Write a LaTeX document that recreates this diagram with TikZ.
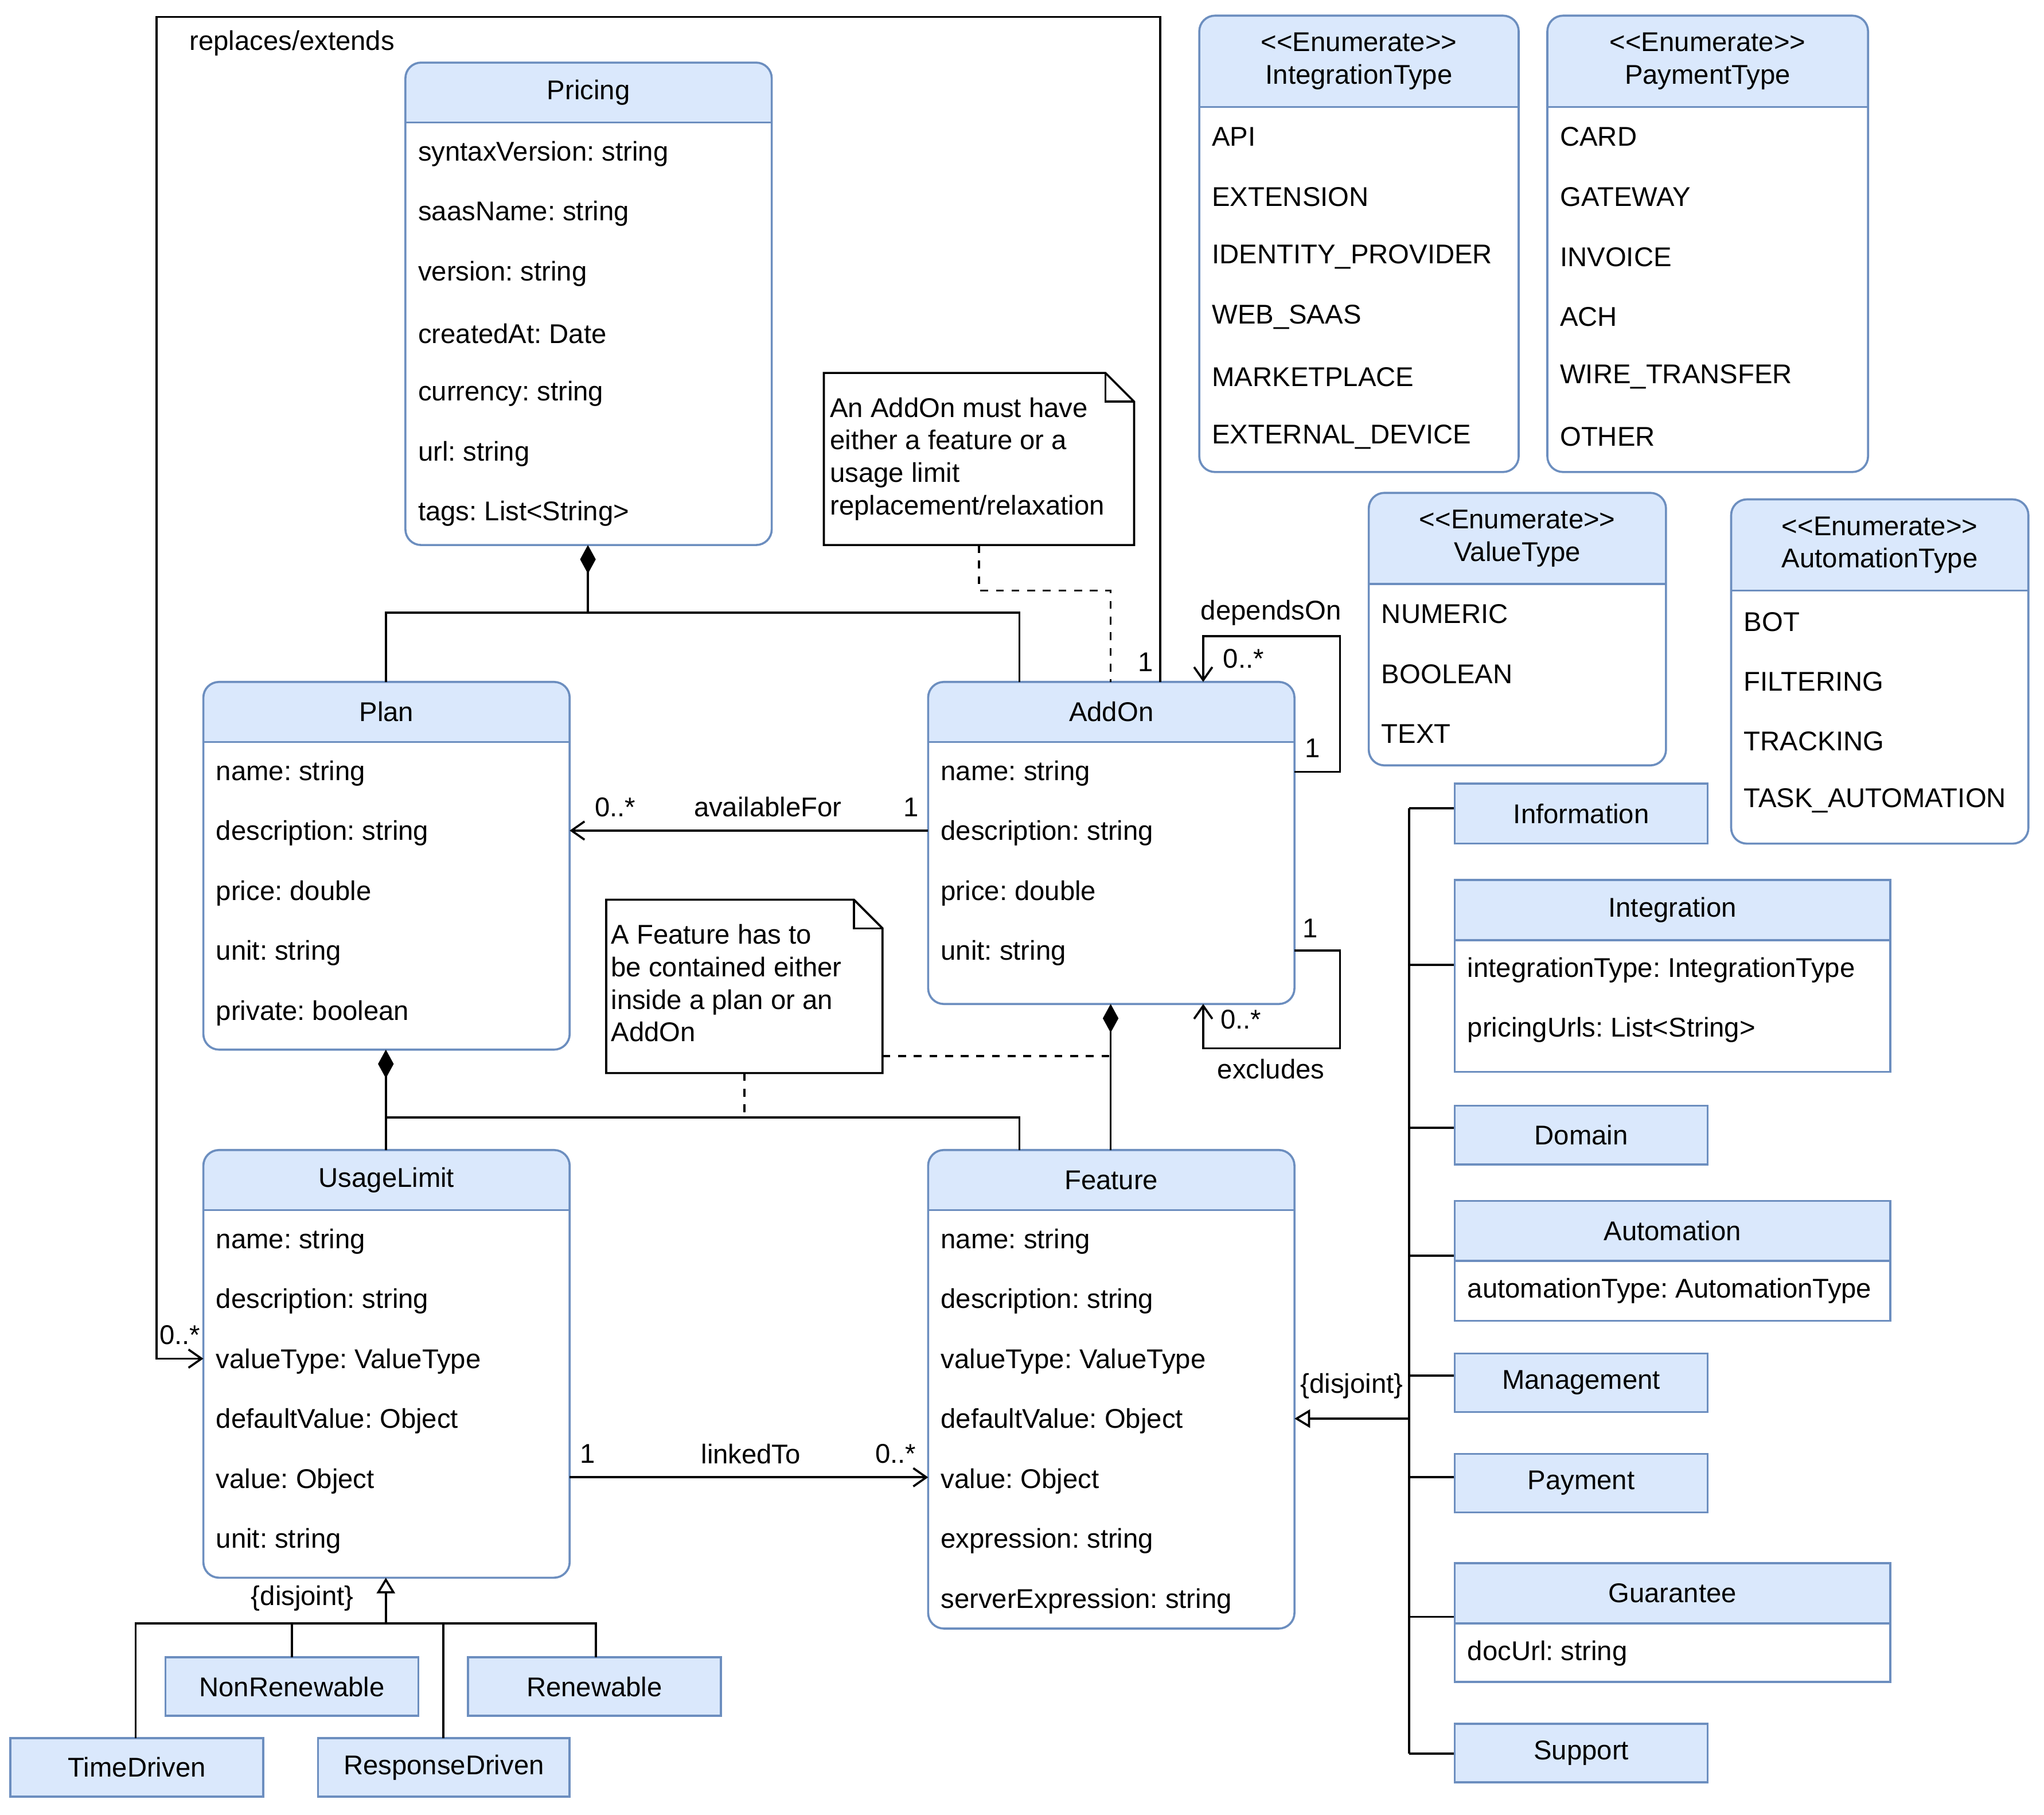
\documentclass[tikz,border=0pt]{standalone}
\usepackage{fontspec}
\setmainfont{Liberation Sans}
\usetikzlibrary{arrows.meta}
\definecolor{hf}{HTML}{DAE8FC}
\definecolor{hs}{HTML}{6C8EBF}
\frenchspacing
\tikzset{
 lbl/.style={inner sep=0pt,font=\fontsize{10.4}{12.5}\selectfont},
 att/.style={lbl,anchor=west},
 oa/.style={-{Straight Barb[length=5pt,width=7pt]}},
 comp/.style={{Diamond[length=11pt,width=6pt,fill=black]}-},
 gen/.style={-{Triangle[open,length=6pt,width=7pt,fill=white]}},
 dsh/.style={dashed},
}
\newcommand\cls[7]{%
 \coordinate (#1-nw) at (#2,#3); \coordinate (#1-se) at (#4,#5);
 \fill[white,rounded corners=6pt] (#2,#3) rectangle (#4,#5);
 \begin{scope}\clip[rounded corners=6pt] (#2,#3) rectangle (#4,#5);
 \fill[hf] (#2,#3) rectangle (#4,#6);\end{scope}
 \draw[hs,line width=0.8pt,rounded corners=6pt] (#2,#3) rectangle (#4,#5);
 \draw[hs,line width=0.8pt] (#2,#6) -- (#4,#6);
 \node[lbl,align=center] (#1) at ({(#2+#4)/2},{(#3+#6)/2}) {#7};}
\newcommand\sq[7]{%
 \fill[white] (#2,#3) rectangle (#4,#5);
 \fill[hf] (#2,#3) rectangle (#4,#6);
 \draw[hs,line width=0.8pt] (#2,#3) rectangle (#4,#5);
 \draw[hs,line width=0.8pt] (#2,#6) -- (#4,#6);
 \node[lbl,align=center] (#1) at ({(#2+#4)/2},{(#3+#6)/2}) {#7};}
\newcommand\sqs[5]{%
 \fill[hf] (#2,#3) rectangle (#4,#5);
 \draw[hs,line width=0.8pt] (#2,#3) rectangle (#4,#5);
 \node[lbl] (#1) at ({(#2+#4)/2},{(#3+#5)/2}) {#1};}
\newcommand\enm{<{}<Enumerate>{}>}
\begin{document}
\begin{tikzpicture}[x=0.5pt,y=-0.5pt,line width=0.8pt]
\useasboundingbox[fill=white] (0,0) rectangle (1568,1392);
% classes
\cls{pricing}{311}{48}{592}{418}{94}{Pricing}
\foreach \t [count=\i from 0] in {syntaxVersion: string,saasName: string,version: string,createdAt: Date,currency: string,url: string,tags: List<String>}
 \node[att] at (320,118+46*\i) {\t};
\cls{plan}{156}{523}{437}{805}{569}{Plan}
\foreach \t [count=\i from 0] in {name: string,description: string,price: double,unit: string,private: boolean}
 \node[att] at (165,593+46*\i) {\t};
\cls{addon}{712}{523}{993}{770}{569}{AddOn}
\foreach \t [count=\i from 0] in {name: string,description: string,price: double,unit: string}
 \node[att] at (721,593+46*\i) {\t};
\cls{usage}{156}{882}{437}{1210}{928}{UsageLimit}
\foreach \t [count=\i from 0] in {name: string,description: string,valueType: ValueType,defaultValue: Object,value: Object,unit: string}
 \node[att] at (165,952+46*\i) {\t};
\cls{feature}{712}{882}{993}{1249}{928}{Feature}
\foreach \t [count=\i from 0] in {name: string,description: string,valueType: ValueType,defaultValue: Object,value: Object,expression: string,serverExpression: string}
 \node[att] at (721,952+46*\i) {\t};
\cls{itype}{920}{12}{1165}{362}{82}{\enm\\IntegrationType}
\foreach \t [count=\i from 0] in {API,EXTENSION,IDENTITY\_PROVIDER,WEB\_SAAS,MARKETPLACE,EXTERNAL\_DEVICE}
 \node[att] at (929,105+46*\i) {\t};
\cls{ptype}{1187}{12}{1433}{362}{82}{\enm\\PaymentType}
\foreach \t [count=\i from 0] in {CARD,GATEWAY,INVOICE,ACH,WIRE\_TRANSFER,OTHER}
 \node[att] at (1196,105+46*\i) {\t};
\cls{vtype}{1050}{378}{1278}{587}{448}{\enm\\ValueType}
\foreach \t [count=\i from 0] in {NUMERIC,BOOLEAN,TEXT}
 \node[att] at (1059,471+46*\i) {\t};
\cls{atype}{1328}{383}{1556}{647}{453}{\enm\\AutomationType}
\foreach \t [count=\i from 0] in {BOT,FILTERING,TRACKING,TASK\_AUTOMATION}
 \node[att] at (1337,477+45.7*\i) {\t};
% feature subtypes
\draw (1081,620) -- (1081,1345);
\foreach \y in {620,740,865,963,1055,1133,1240,1345} \draw (1081,\y) -- (1116,\y);
\sqs{Information}{1116}{601}{1310}{647}
\sq{integ}{1116}{675}{1450}{822}{721}{Integration}
\node[att] at (1125,744) {integrationType: IntegrationType};
\node[att] at (1125,790) {pricingUrls: List<String>};
\sqs{Domain}{1116}{848}{1310}{893}
\sq{autom}{1116}{921}{1450}{1013}{967}{Automation}
\node[att] at (1125,990) {automationType: AutomationType};
\sqs{Management}{1116}{1038}{1310}{1083}
\sqs{Payment}{1116}{1115}{1310}{1160}
\sq{guar}{1116}{1199}{1450}{1290}{1245}{Guarantee}
\node[att] at (1125,1268) {docUrl: string};
\sqs{Support}{1116}{1322}{1310}{1367}
\coordinate (fr) at (993,1088);
\draw[gen] (1081,1088) -- (fr);
\node[lbl] at (1037,1063) {\{disjoint\}};
% usage subtypes
\sqs{NonRenewable}{127}{1271}{321}{1316}
\sqs{Renewable}{359}{1271}{553}{1316}
\sqs{TimeDriven}{8}{1333}{202}{1378}
\sqs{ResponseDriven}{244}{1333}{437}{1378}
\draw[gen] (296,1245) -- (296,1210);
\draw (104,1333) -- (104,1245) -- (457,1245) -- (457,1271);
\draw (224,1245) -- (224,1271); \draw (340,1245) -- (340,1333);
\node[lbl] at (232,1226) {\{disjoint\}};
% notes
\draw[fill=white] (632,286) -- (848,286) -- (870,308) -- (870,418) -- (632,418) -- cycle;
\draw (848,286) -- (848,308) -- (870,308);
\node[lbl,anchor=north west,align=left] (n1) at (636,304) {An AddOn must have\\either a feature or a\\usage limit\\replacement/relaxation};
\draw[fill=white] (465,690) -- (655,690) -- (677,712) -- (677,823) -- (465,823) -- cycle;
\draw (655,690) -- (655,712) -- (677,712);
\node[lbl,anchor=north west,align=left] (n2) at (468,708) {A Feature has to\\be contained either\\inside a plan or an\\AddOn};
\draw[dsh] (751,418) -- (751,453) -- (852,453) -- (852,523);
\draw[dsh] (677,810) -- (852,810);
\draw[dsh] (571,823) -- (571,857);
% compositions
\draw[comp] (451,418) -- (451,470);
\draw (296,523) -- (296,470) -- (782,470) -- (782,523);
\draw[comp] (296,805) -- (296,857);
\draw (296,882) -- (296,857) -- (782,857) -- (782,882);
\draw[comp] (852,770) -- (852,882);
% associations
\draw[oa] (712,637) -- (437,637);
\node[lbl] at (472,619) {0..*}; \node[lbl] at (589,619) {availableFor}; \node[lbl] at (699,619) {1};
\draw[oa] (437,1133) -- (712,1133);
\node[lbl] at (451,1115) {1}; \node[lbl] at (576,1115) {linkedTo}; \node[lbl] at (687,1115) {0..*};
\draw[oa] (993,592) -- (1028,592) -- (1028,488) -- (923,488) -- (923,523);
\node[lbl] at (975,470) {dependsOn}; \node[lbl] at (954,505) {0..*}; \node[lbl] at (1007,574) {1};
\draw[oa] (993,729) -- (1028,729) -- (1028,804) -- (923,804) -- (923,770);
\node[lbl] at (1005,712) {1}; \node[lbl] at (952,782) {0..*}; \node[lbl] at (975,820) {excludes};
\draw[oa] (890,523) -- (890,13) -- (120,13) -- (120,1042) -- (156,1042);
\node[lbl] at (224,33) {replaces/extends}; \node[lbl] at (879,508) {1}; \node[lbl] at (138,1024) {0..*};
\end{tikzpicture}
\end{document}
